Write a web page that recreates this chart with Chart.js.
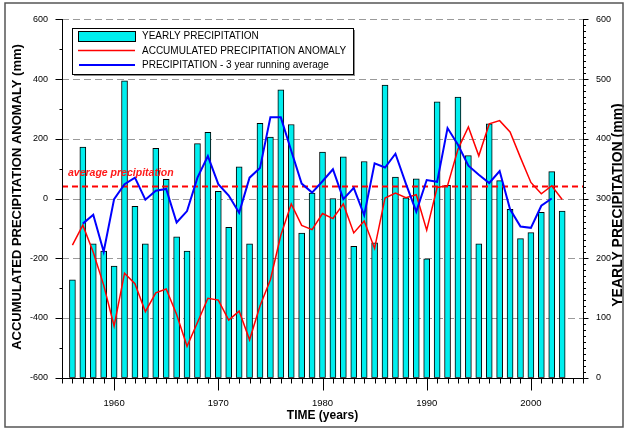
<!DOCTYPE html>
<html>
<head>
<meta charset="utf-8">
<script src="https://cdn.jsdelivr.net/npm/chart.js@4.4.0/dist/chart.umd.min.js"></script>
<style>
  html, body { margin: 0; padding: 0; background: #fff; }
  #wrap { width: 624px; height: 429px; }
</style>
</head>
<body>
<div id="wrap"><canvas id="chart" width="624" height="429"></canvas></div>
<script>
// ─── Data ───
const years = [1956, 1957, 1958, 1959, 1960, 1961, 1962, 1963, 1964, 1965,
               1966, 1967, 1968, 1969, 1970, 1971, 1972, 1973, 1974, 1975,
               1976, 1977, 1978, 1979, 1980, 1981, 1982, 1983, 1984, 1985,
               1986, 1987, 1988, 1989, 1990, 1991, 1992, 1993, 1994, 1995,
               1996, 1997, 1998, 1999, 2000, 2001, 2002, 2003];

// yearly precipitation (mm, right axis)
const precip = [164, 386, 224, 212, 187, 497, 287, 224, 384, 332,
                236, 212, 392, 411, 312, 252, 353, 224, 426, 403,
                482, 424, 242, 309, 378, 300, 370, 220, 362, 226,
                490, 336, 301, 333, 199, 462, 322, 470, 372, 224,
                425, 330, 282, 233, 243, 277, 345, 279];

// accumulated precipitation anomaly (mm, left axis)
const anomaly = [-156, -89, -180, -290, -427, -250, -285, -379, -316, -303,
                 -388, -495, -415, -334, -340, -407, -377, -473, -360, -272,
                 -123, -18, -90, -104, -50, -67, -18, -115, -75, -167,
                 2, 18, 3, 13, -106, 37, 43, 165, 240, 143,
                 250, 261, 223, 137, 54, 16, 43, -3];

// 3 year running average (mm, right axis), 1957..2002
const runYears = years.slice(1, -1);
const runAvg = [258, 273, 211, 299, 324, 335, 298, 313, 316, 260,
                279, 335, 371, 324, 305, 276, 335, 351, 436, 436,
                380, 325, 310, 329, 349, 299, 318, 272, 359, 352,
                375, 325, 278, 331, 328, 418, 390, 355, 340, 326,
                346, 282, 253, 251, 288, 300];

const avgPrecip = 320;

const xRange = [1955, 2005];
const leftTicks = [-600, -400, -200, 0, 200, 400, 600];
const rightTicks = [0, 100, 200, 300, 400, 500, 600];
const xLabels = [1960, 1970, 1980, 1990, 2000];

const FONT = "'Liberation Sans', Arial, Helvetica, sans-serif";
const CYAN = '#00eeee';

// ─── Axes, ticks, legend, titles ───
const framePlugin = {
    id: 'frame',
    beforeDatasetsDraw(chart) {
        const { ctx, chartArea: a, scales } = chart;
        ctx.save();
        ctx.strokeStyle = '#9a9a9a';
        ctx.lineWidth = 1;
        ctx.setLineDash([7, 4]);
        leftTicks.forEach(v => {
            if (v === leftTicks[0]) return;
            const py = Math.round(scales.y.getPixelForValue(v)) + 0.5;
            ctx.beginPath();
            ctx.moveTo(a.left, py);
            ctx.lineTo(a.right, py);
            ctx.stroke();
        });
        ctx.restore();
    },
    afterDatasetsDraw(chart) {
        const { ctx, chartArea: a, scales } = chart;
        const L = Math.round(a.left) + 0.5;
        const R = Math.round(a.right) + 0.5;
        const B = Math.round(a.bottom) + 0.5;
        const T = Math.round(a.top);

        ctx.save();
        ctx.strokeStyle = '#000';
        ctx.lineWidth = 1;
        ctx.beginPath();
        ctx.moveTo(L, T); ctx.lineTo(L, B);
        ctx.moveTo(R, T); ctx.lineTo(R, B);
        ctx.moveTo(L, B); ctx.lineTo(R, B);

        // left ticks: minor every 100
        for (let v = leftTicks[0]; v <= leftTicks[leftTicks.length - 1]; v += 100) {
            const py = Math.round(scales.y.getPixelForValue(v)) + 0.5;
            const len = v % 200 === 0 ? 7 : 3;
            ctx.moveTo(L - len, py); ctx.lineTo(L, py);
        }
        // right ticks: minor every 10
        for (let v = 0; v <= 600; v += 10) {
            const py = Math.round(scales.y2.getPixelForValue(v)) + 0.5;
            const len = v % 100 === 0 ? 5 : 2.5;
            ctx.moveTo(R, py); ctx.lineTo(R + len, py);
        }
        // bottom ticks: every year
        for (let yr = xRange[0]; yr <= xRange[1]; yr++) {
            const px = Math.round(scales.x.getPixelForValue(yr)) + 0.5;
            const len = yr % 10 === 0 ? 12 : 5;
            ctx.moveTo(px, B); ctx.lineTo(px, B + len);
        }
        ctx.stroke();

        // average label
        ctx.fillStyle = '#ff1a1a';
        ctx.font = 'italic bold 10.5px ' + FONT;
        ctx.textAlign = 'left';
        ctx.textBaseline = 'alphabetic';
        ctx.fillText('average precipitation', 68, 176);

        // legend box
        const lx = 72.5, ly = 28.5, lw = 281, lh = 46;
        ctx.fillStyle = '#8a8a8a';
        ctx.fillRect(lx + 1.5, ly + 1.5, lw, lh);
        ctx.fillStyle = '#fff';
        ctx.fillRect(lx, ly, lw, lh);
        ctx.strokeStyle = '#000';
        ctx.lineWidth = 1;
        ctx.strokeRect(lx, ly, lw, lh);

        ctx.fillStyle = CYAN;
        ctx.fillRect(78.5, 31.5, 57, 10);
        ctx.strokeRect(78.5, 31.5, 57, 10);

        ctx.lineWidth = 1.5;
        ctx.strokeStyle = '#ff0000';
        ctx.beginPath(); ctx.moveTo(78, 50.5); ctx.lineTo(135, 50.5); ctx.stroke();
        ctx.lineWidth = 2;
        ctx.strokeStyle = '#0000ff';
        ctx.beginPath(); ctx.moveTo(79, 65); ctx.lineTo(135, 65); ctx.stroke();

        ctx.fillStyle = '#000';
        ctx.font = '10px ' + FONT;
        ctx.textBaseline = 'middle';
        ctx.fillText('YEARLY PRECIPITATION', 142, 36.5);
        ctx.fillText('ACCUMULATED PRECIPITATION ANOMALY', 142, 51);
        ctx.fillText('PRECIPITATION - 3 year running average', 142, 65.5);

        // axis titles
        ctx.font = 'bold 12px ' + FONT;
        ctx.textAlign = 'center';
        ctx.fillText('TIME (years)', (a.left + a.right) / 2, 416);

        ctx.font = 'bold 13px ' + FONT;
        ctx.save();
        ctx.translate(17, 197);
        ctx.rotate(-Math.PI / 2);
        ctx.fillText('ACCUMULATED PRECIPITATION ANOMALY (mm)', 0, 0);
        ctx.restore();

        ctx.font = 'bold 14px ' + FONT;
        ctx.save();
        ctx.translate(618, 205);
        ctx.rotate(-Math.PI / 2);
        ctx.fillText('YEARLY PRECIPITATION (mm)', 0, 0);
        ctx.restore();

        // outer frame
        ctx.strokeStyle = '#555';
        ctx.lineWidth = 1.5;
        ctx.strokeRect(5, 3, 618, 424);
        ctx.restore();
    }
};

new Chart(document.getElementById('chart'), {
    type: 'bar',
    data: {
        datasets: [
            {
                type: 'line',
                label: 'PRECIPITATION - 3 year running average',
                data: runYears.map((x, i) => ({ x: x, y: runAvg[i] })),
                yAxisID: 'y2',
                borderColor: '#0000ff',
                borderWidth: 2,
                pointRadius: 0,
                tension: 0,
                order: 0,
            },
            {
                type: 'line',
                label: 'ACCUMULATED PRECIPITATION ANOMALY',
                data: years.map((x, i) => ({ x: x, y: anomaly[i] })),
                yAxisID: 'y',
                borderColor: '#ff0000',
                borderWidth: 1.5,
                pointRadius: 0,
                tension: 0,
                order: 1,
            },
            {
                type: 'line',
                label: 'average precipitation',
                data: xRange.map(x => ({ x: x, y: avgPrecip })),
                yAxisID: 'y2',
                borderColor: '#ff0000',
                borderWidth: 2,
                borderDash: [6, 4],
                pointRadius: 0,
                order: 2,
            },
            {
                type: 'bar',
                label: 'YEARLY PRECIPITATION',
                data: years.map((x, i) => ({ x: x, y: precip[i] })),
                yAxisID: 'y2',
                backgroundColor: CYAN,
                borderColor: '#000',
                borderWidth: 1,
                borderSkipped: false,
                barThickness: 6,
                order: 3,
            }
        ]
    },
    options: {
        responsive: false,
        animation: false,
        events: [],
        layout: { padding: { top: 17, left: 0, right: 0, bottom: 0 } },
        plugins: {
            legend: { display: false },
            tooltip: { enabled: false },
        },
        scales: {
            x: {
                type: 'linear',
                min: xRange[0],
                max: xRange[1],
                offset: false,
                grid: { display: false, drawTicks: false },
                border: { display: false },
                afterFit: s => { s.height = 51.3; },
                afterBuildTicks: s => { s.ticks = xLabels.map(v => ({ value: v })); },
                ticks: {
                    autoSkip: false,
                    maxRotation: 0,
                    padding: 20,
                    color: '#000',
                    font: { family: FONT, size: 9.5 },
                    callback: v => String(v),
                },
            },
            y: {
                position: 'left',
                min: leftTicks[0],
                max: leftTicks[leftTicks.length - 1],
                grid: { display: false, drawTicks: false },
                border: { display: false },
                afterFit: s => { s.width = 62; },
                afterBuildTicks: s => { s.ticks = leftTicks.map(v => ({ value: v })); },
                ticks: {
                    padding: 14,
                    color: '#000',
                    font: { family: FONT, size: 9 },
                },
            },
            y2: {
                position: 'right',
                min: rightTicks[0],
                max: rightTicks[rightTicks.length - 1],
                grid: { display: false, drawTicks: false },
                border: { display: false },
                afterFit: s => { s.width = 41; },
                afterBuildTicks: s => { s.ticks = rightTicks.map(v => ({ value: v })); },
                ticks: {
                    padding: 13,
                    color: '#000',
                    font: { family: FONT, size: 9 },
                },
            }
        }
    },
    plugins: [framePlugin]
});
</script>
</body>
</html>
